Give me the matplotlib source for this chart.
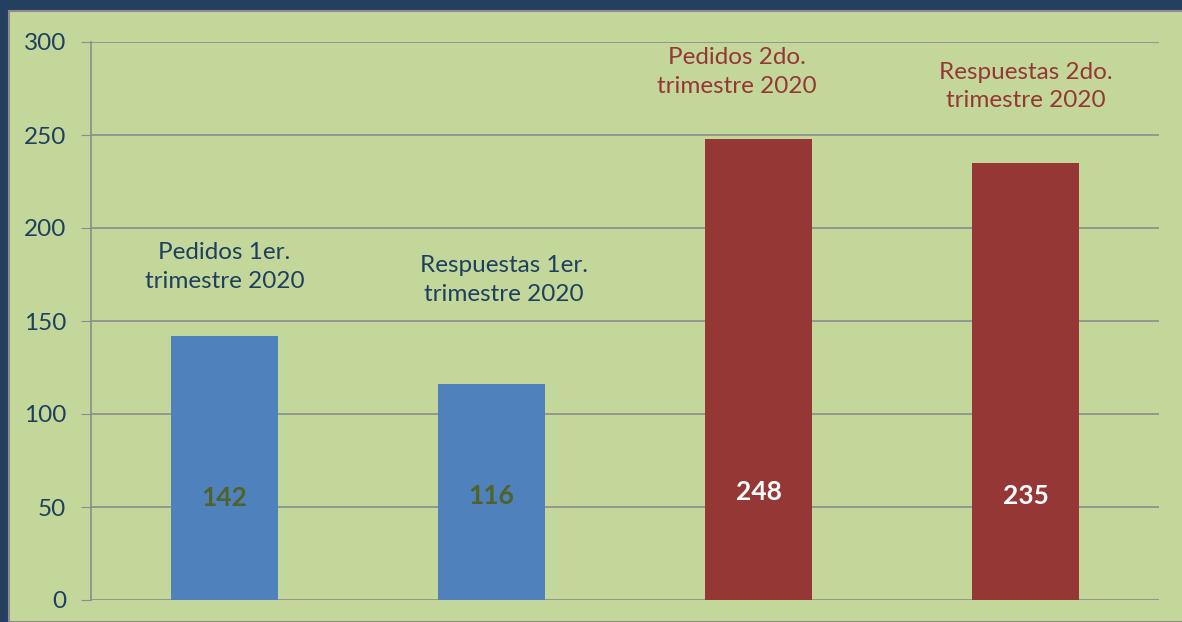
import matplotlib.pyplot as plt
from matplotlib.patches import Rectangle

categorias = ['Pedidos 1er.\ntrimestre 2020', 'Respuestas 1er.\ntrimestre 2020',
              'Pedidos 2do.\ntrimestre 2020', 'Respuestas 2do.\ntrimestre 2020']
valores = [142, 116, 248, 235]

# ubicación de las etiquetas (layout)
colores = ['#4f81bd', '#4f81bd', '#953735', '#953735']
color_texto = ['#1f3f5f', '#1f3f5f', '#953735', '#953735']
color_valor = ['#4f6228', '#4f6228', 'white', 'white']
dx_etiqueta = [0, 0.045, -0.08, 0]
y_etiqueta = [179, 172, 284, 276]
y_valor = [55, 56, 58, 56]

plt.rcParams['font.family'] = ['Lato', 'DejaVu Sans']

fig = plt.figure(figsize=(11.82, 6.22), dpi=100)
fig.patch.set_facecolor('#243f60')
fig.patches.append(Rectangle((9 / 1182, 0), 1, 1 - 11 / 622, transform=fig.transFigure,
                             facecolor='#c4d79b', edgecolor='#8c8c8c', linewidth=1.5, zorder=-1))

ax = fig.add_axes([91 / 1182, 1 - 600 / 622, (1159 - 91) / 1182, (600 - 42) / 622])
ax.set_facecolor('#c4d79b')

x = range(len(valores))
ax.bar(x, valores, width=0.4, color=colores, zorder=3)

for i, v in enumerate(valores):
    ax.text(i + dx_etiqueta[i], y_etiqueta[i], categorias[i], ha='center', va='center',
            fontsize=17.5, color=color_texto[i], linespacing=1.45, zorder=4)
    ax.text(i, y_valor[i], str(v), ha='center', va='center', fontsize=19,
            fontweight='bold', color=color_valor[i], zorder=4)

ax.set_xlim(-0.5, 3.5)
ax.set_ylim(0, 300)
ax.set_yticks(range(0, 301, 50))
ax.set_xticks([])
ax.yaxis.grid(True, color='#8c8c8c', linewidth=1.2, zorder=0)
ax.set_axisbelow(True)
ax.tick_params(axis='y', length=7, color='#8c8c8c', labelsize=17.5, labelcolor='#1f3f5f', pad=11)
for s in ['top', 'right', 'bottom']:
    ax.spines[s].set_visible(False)
ax.spines['left'].set_color('#8c8c8c')
ax.spines['left'].set_linewidth(1.2)

fig.savefig('out.png', dpi=100, facecolor=fig.get_facecolor())
